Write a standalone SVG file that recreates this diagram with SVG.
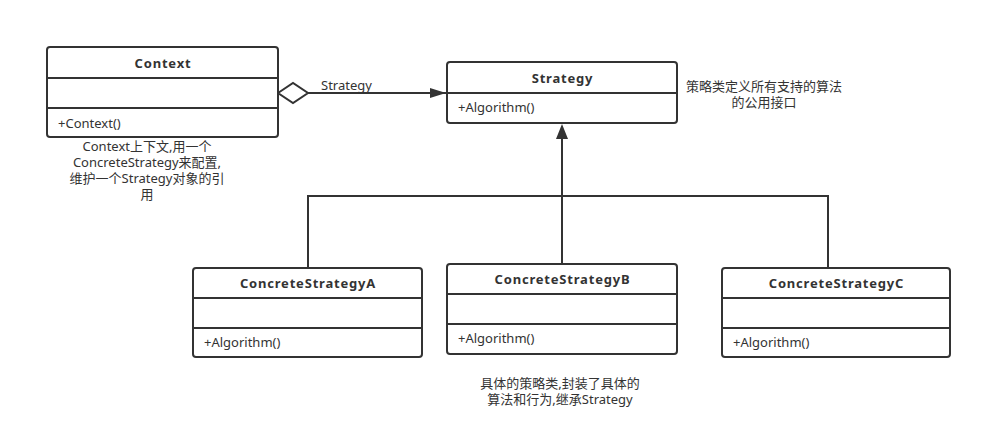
<svg xmlns="http://www.w3.org/2000/svg" width="983" height="443" viewBox="0 0 983 443">
<defs>
<style>
.box{fill:#fff;stroke:#333;stroke-width:2}
.div{stroke:#333;stroke-width:2}
.t{font-family:"Noto Sans","Noto Sans CJK SC",sans-serif;font-size:13px;fill:#333}
.b{font-weight:bold;text-anchor:middle;letter-spacing:0.8px}
.c{text-anchor:middle;font-size:13px}
.ln{fill:none;stroke:#333;stroke-width:2}
</style>
<marker id="arr" markerWidth="16" markerHeight="12" refX="16" refY="6" orient="auto" markerUnits="userSpaceOnUse"><path d="M0,1 L16,6 L0,11 Z" fill="#333"/></marker>
</defs>
<rect width="983" height="443" fill="#fff"/>
<g id="connectors">
<path class="ln" d="M308,93 H446" marker-end="url(#arr)"/>
<path d="M278,93 L293,83 L308,93 L293,103 Z" fill="#fff" stroke="#333" stroke-width="2"/>
<text class="t" x="321" y="90">Strategy</text>
<path class="ln" d="M308,268 V196 H828 V268 M562,264 V136"/>
<path d="M562,124 L568,139 L556,139 Z" fill="#333"/>
</g>
<g id="context">
<rect class="box" x="47" y="47" width="231" height="90" rx="3"/>
<path class="div" d="M47,78 H278 M47,108 H278"/>
<text class="t b" x="163" y="68">Context</text>
<text class="t" x="58" y="128">+Context()</text>
</g>
<g id="strategy">
<rect class="box" x="447" y="62" width="230" height="61" rx="3"/>
<path class="div" d="M447,93 H677"/>
<text class="t b" x="562.500" y="83">Strategy</text>
<text class="t" x="458" y="112">+Algorithm()</text>
</g>
<g id="concreteA">
<rect class="box" x="193" y="268" width="229" height="89" rx="3"/>
<path class="div" d="M193,298 H422 M193,328 H422"/>
<text class="t b" x="308" y="288">ConcreteStrategyA</text>
<text class="t" x="204" y="347">+Algorithm()</text>
</g>
<g id="concreteB">
<rect class="box" x="447" y="264" width="230" height="90" rx="3"/>
<path class="div" d="M447,294 H677 M447,324 H677"/>
<text class="t b" x="562.500" y="284">ConcreteStrategyB</text>
<text class="t" x="458" y="343">+Algorithm()</text>
</g>
<g id="concreteC">
<rect class="box" x="722" y="268" width="228" height="89" rx="3"/>
<path class="div" d="M722,298 H950 M722,328 H950"/>
<text class="t b" x="836.500" y="288">ConcreteStrategyC</text>
<text class="t" x="733" y="347">+Algorithm()</text>
</g>
<g id="notes">
<text class="t c" x="147" y="151">Context上下文,用一个</text>
<text class="t c" x="147" y="167">ConcreteStrategy来配置,</text>
<text class="t c" x="147" y="183">维护一个Strategy对象的引</text>
<text class="t c" x="147" y="199">用</text>
<text class="t c" x="764" y="91">策略类定义所有支持的算法</text>
<text class="t c" x="764" y="107">的公用接口</text>
<text class="t c" x="560" y="388">具体的策略类,封装了具体的</text>
<text class="t c" x="560" y="404">算法和行为,继承Strategy</text>
</g>
</svg>
